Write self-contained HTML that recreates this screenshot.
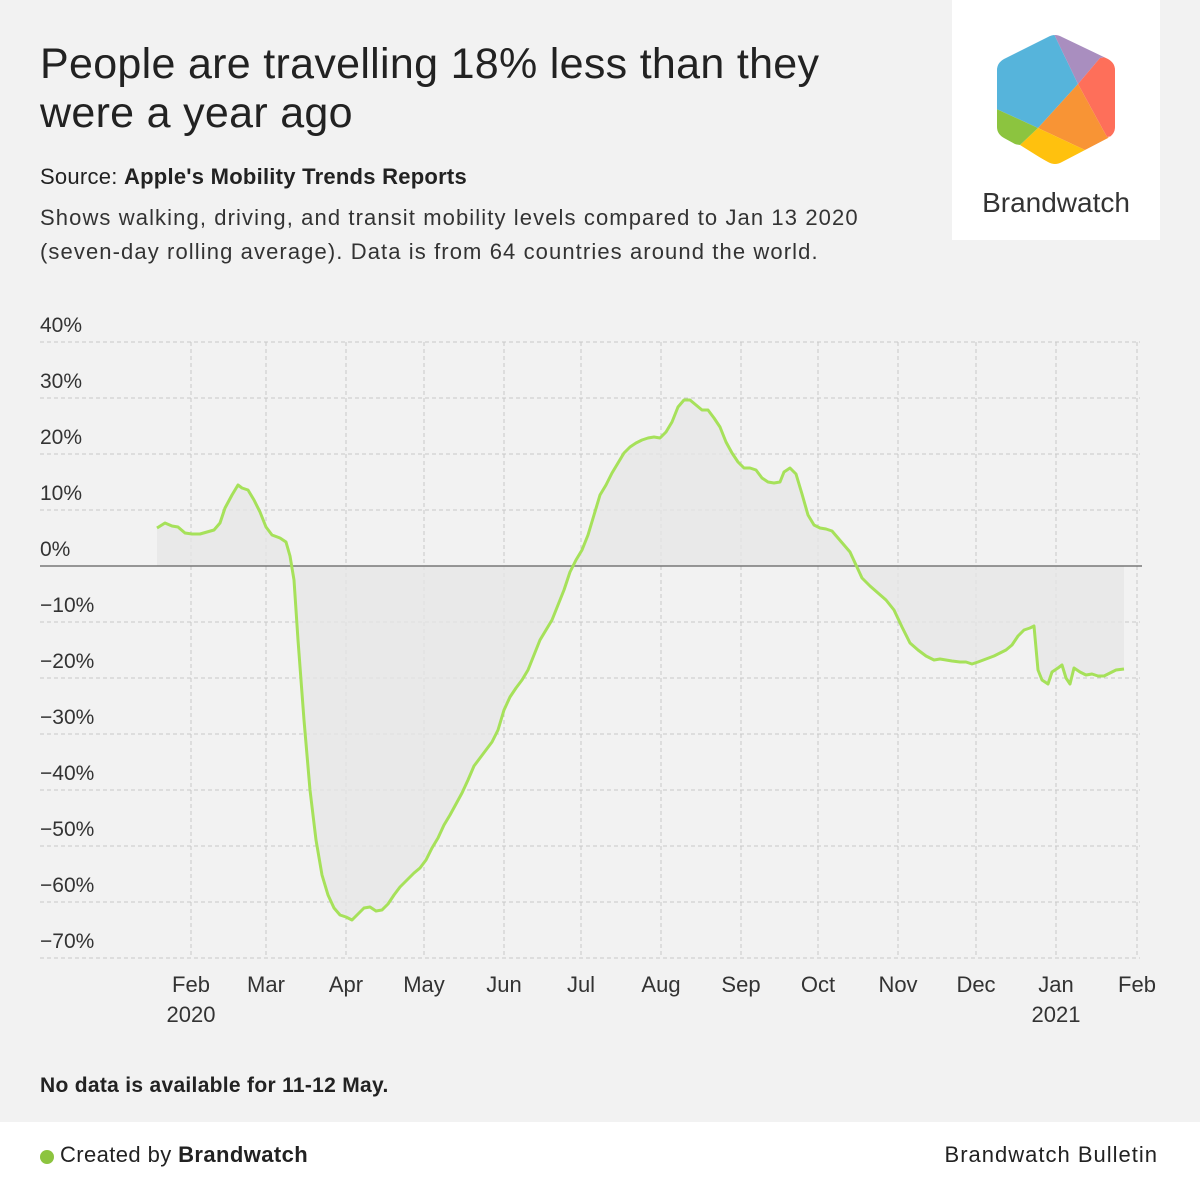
<!DOCTYPE html>
<html><head><meta charset="utf-8"><style>
body{margin:0;width:1200px;height:1200px;background:#f2f2f2;font-family:"Liberation Sans",Roboto,sans-serif;position:relative;overflow:hidden;color:#222}
.t{position:absolute;white-space:nowrap}
</style></head><body>
<div class="t" style="left:40px;top:40px;font-size:43px;line-height:49px;font-weight:500;color:#222;letter-spacing:0.3px">People are travelling 18% less than they<br>were a year ago</div>
<div class="t" style="left:40px;top:164px;font-size:22px;letter-spacing:0.25px">Source: <b>Apple's Mobility Trends Reports</b></div>
<div class="t" style="left:40px;top:201px;font-size:22px;line-height:34px;color:#333;letter-spacing:1.1px">Shows walking, driving, and transit mobility levels compared to Jan 13 2020<br>(seven-day rolling average). Data is from 64 countries around the world.</div>
<div style="position:absolute;left:952px;top:0;width:208px;height:240px;background:#fff"></div>
<svg style="position:absolute;left:0;top:0" width="1200" height="1200">
<defs><clipPath id="hx"><path d="M1048,37 Q1055,33 1062,37 L1108,59 Q1115,63 1115,70 L1115,127 Q1115,134 1108,138 L1062,162 Q1055,166 1048,162 L1004,138 Q997,134 997,127 L997,70 Q997,63 1004,59 Z"/></clipPath></defs>
<g clip-path="url(#hx)">
<polygon fill="#56b4db" points="990,55 1052,30 1078,84 1038,128 990,106"/>
<polygon fill="#a98ebf" points="1052,30 1120,55 1100,58 1078,84"/>
<polygon fill="#fe6f5a" points="1100,58 1120,55 1120,135 1107,137 1078,84"/>
<polygon fill="#f89435" points="1078,84 1107,137 1120,140 1085,150 1038,128"/>
<polygon fill="#ffc10e" points="1038,128 1085,150 1120,150 1060,170 1020,145"/>
<polygon fill="#8cc43f" points="990,106 1038,128 1020,145 990,140"/>
</g>
<text x="1056" y="212" font-size="28" text-anchor="middle" fill="#333" font-family="Liberation Sans">Brandwatch</text>
<g stroke="#c8c8c8" stroke-dasharray="4,3" stroke-width="1">
<line x1="40" x2="1140" y1="342" y2="342"/><line x1="40" x2="1140" y1="398" y2="398"/><line x1="40" x2="1140" y1="454" y2="454"/><line x1="40" x2="1140" y1="510" y2="510"/>
<line x1="40" x2="1140" y1="622" y2="622"/><line x1="40" x2="1140" y1="678" y2="678"/><line x1="40" x2="1140" y1="734" y2="734"/><line x1="40" x2="1140" y1="790" y2="790"/><line x1="40" x2="1140" y1="846" y2="846"/><line x1="40" x2="1140" y1="902" y2="902"/><line x1="40" x2="1140" y1="958" y2="958"/>
<line y1="342" y2="958" x1="191" x2="191"/><line y1="342" y2="958" x1="266" x2="266"/><line y1="342" y2="958" x1="346" x2="346"/><line y1="342" y2="958" x1="424" x2="424"/><line y1="342" y2="958" x1="504" x2="504"/><line y1="342" y2="958" x1="581" x2="581"/><line y1="342" y2="958" x1="661" x2="661"/><line y1="342" y2="958" x1="741" x2="741"/><line y1="342" y2="958" x1="818" x2="818"/><line y1="342" y2="958" x1="898" x2="898"/><line y1="342" y2="958" x1="976" x2="976"/><line y1="342" y2="958" x1="1056" x2="1056"/><line y1="342" y2="958" x1="1137" x2="1137"/>
</g>
<polygon fill="#e6e6e6" fill-opacity="0.8" points="157,566 157,528 165,523 172,526 178,527 185,533 192,534 200,534 207,532 214,530 220,523 225,508 232,495 238,485 242,488 248,490 254,500 260,512 266,527 272,535 280,538 286,542 290,556 294,580 298,640 304,720 310,790 316,840 322,875 328,895 334,908 340,915 346,917 352,920 358,914 364,908 370,907 376,911 382,910 388,904 394,895 400,887 408,879 414,873 420,868 426,860 432,848 438,838 444,825 450,815 456,804 462,793 468,780 474,766 480,758 486,750 492,742 498,730 504,710 510,697 516,688 522,680 528,670 534,655 540,640 546,630 552,620 558,605 564,590 570,572 576,560 582,550 588,535 594,515 600,495 606,485 612,473 618,463 624,453 630,447 636,443 642,440 648,438 654,437 660,438 666,432 672,422 678,407 684,400 690,400 696,405 702,410 708,410 714,418 720,427 726,442 732,453 738,462 744,468 750,468 756,470 762,478 768,482 774,483 780,482 784,472 790,468 796,474 802,494 808,515 814,525 820,528 826,529 832,531 838,538 844,545 850,552 856,565 862,578 870,586 878,593 886,600 894,610 902,627 910,643 918,650 926,656 934,660 940,659 946,660 952,661 960,662 966,662 972,664 978,662 986,659 994,656 1000,653 1006,650 1012,645 1018,636 1024,630 1030,628 1034,626 1038,670 1042,680 1048,684 1052,672 1058,668 1062,665 1066,678 1070,684 1074,668 1080,672 1086,675 1092,674 1098,676 1104,676 1110,673 1116,670 1124,669 1124,566"/>
<line x1="40" x2="1142" y1="566" y2="566" stroke="#777" stroke-width="1.5"/>
<polyline fill="none" stroke="#a6e15a" stroke-width="3" stroke-linejoin="round" points="157,528 165,523 172,526 178,527 185,533 192,534 200,534 207,532 214,530 220,523 225,508 232,495 238,485 242,488 248,490 254,500 260,512 266,527 272,535 280,538 286,542 290,556 294,580 298,640 304,720 310,790 316,840 322,875 328,895 334,908 340,915 346,917 352,920 358,914 364,908 370,907 376,911 382,910 388,904 394,895 400,887 408,879 414,873 420,868 426,860 432,848 438,838 444,825 450,815 456,804 462,793 468,780 474,766 480,758 486,750 492,742 498,730 504,710 510,697 516,688 522,680 528,670 534,655 540,640 546,630 552,620 558,605 564,590 570,572 576,560 582,550 588,535 594,515 600,495 606,485 612,473 618,463 624,453 630,447 636,443 642,440 648,438 654,437 660,438 666,432 672,422 678,407 684,400 690,400 696,405 702,410 708,410 714,418 720,427 726,442 732,453 738,462 744,468 750,468 756,470 762,478 768,482 774,483 780,482 784,472 790,468 796,474 802,494 808,515 814,525 820,528 826,529 832,531 838,538 844,545 850,552 856,565 862,578 870,586 878,593 886,600 894,610 902,627 910,643 918,650 926,656 934,660 940,659 946,660 952,661 960,662 966,662 972,664 978,662 986,659 994,656 1000,653 1006,650 1012,645 1018,636 1024,630 1030,628 1034,626 1038,670 1042,680 1048,684 1052,672 1058,668 1062,665 1066,678 1070,684 1074,668 1080,672 1086,675 1092,674 1098,676 1104,676 1110,673 1116,670 1124,669"/>
<g font-size="21" fill="#333" font-family="Liberation Sans">
<text x="40" y="332">40%</text><text x="40" y="388">30%</text><text x="40" y="444">20%</text><text x="40" y="500">10%</text><text x="40" y="556">0%</text>
<text x="40" y="612">−10%</text><text x="40" y="668">−20%</text><text x="40" y="724">−30%</text><text x="40" y="780">−40%</text><text x="40" y="836">−50%</text><text x="40" y="892">−60%</text><text x="40" y="948">−70%</text>
</g>
<g font-size="22" fill="#333" text-anchor="middle" font-family="Liberation Sans">
<text x="191" y="992">Feb</text><text x="191" y="1022">2020</text><text x="266" y="992">Mar</text><text x="346" y="992">Apr</text><text x="424" y="992">May</text><text x="504" y="992">Jun</text><text x="581" y="992">Jul</text><text x="661" y="992">Aug</text><text x="741" y="992">Sep</text><text x="818" y="992">Oct</text><text x="898" y="992">Nov</text><text x="976" y="992">Dec</text><text x="1056" y="992">Jan</text><text x="1056" y="1022">2021</text><text x="1137" y="992">Feb</text>
</g>
</svg>
<div class="t" style="left:40px;top:1074px;font-size:21px;font-weight:bold;letter-spacing:0.3px">No data is available for 11-12 May.</div>
<div style="position:absolute;left:0;top:1122px;width:1200px;height:78px;background:#fff"></div>
<div style="position:absolute;left:40px;top:1150px;width:14px;height:14px;border-radius:50%;background:#8cc43f"></div>
<div class="t" style="left:60px;top:1142px;font-size:22px;letter-spacing:0.4px">Created by <b>Brandwatch</b></div>
<div class="t" style="right:42px;top:1142px;font-size:22px;letter-spacing:1px">Brandwatch Bulletin</div>
</body></html>
